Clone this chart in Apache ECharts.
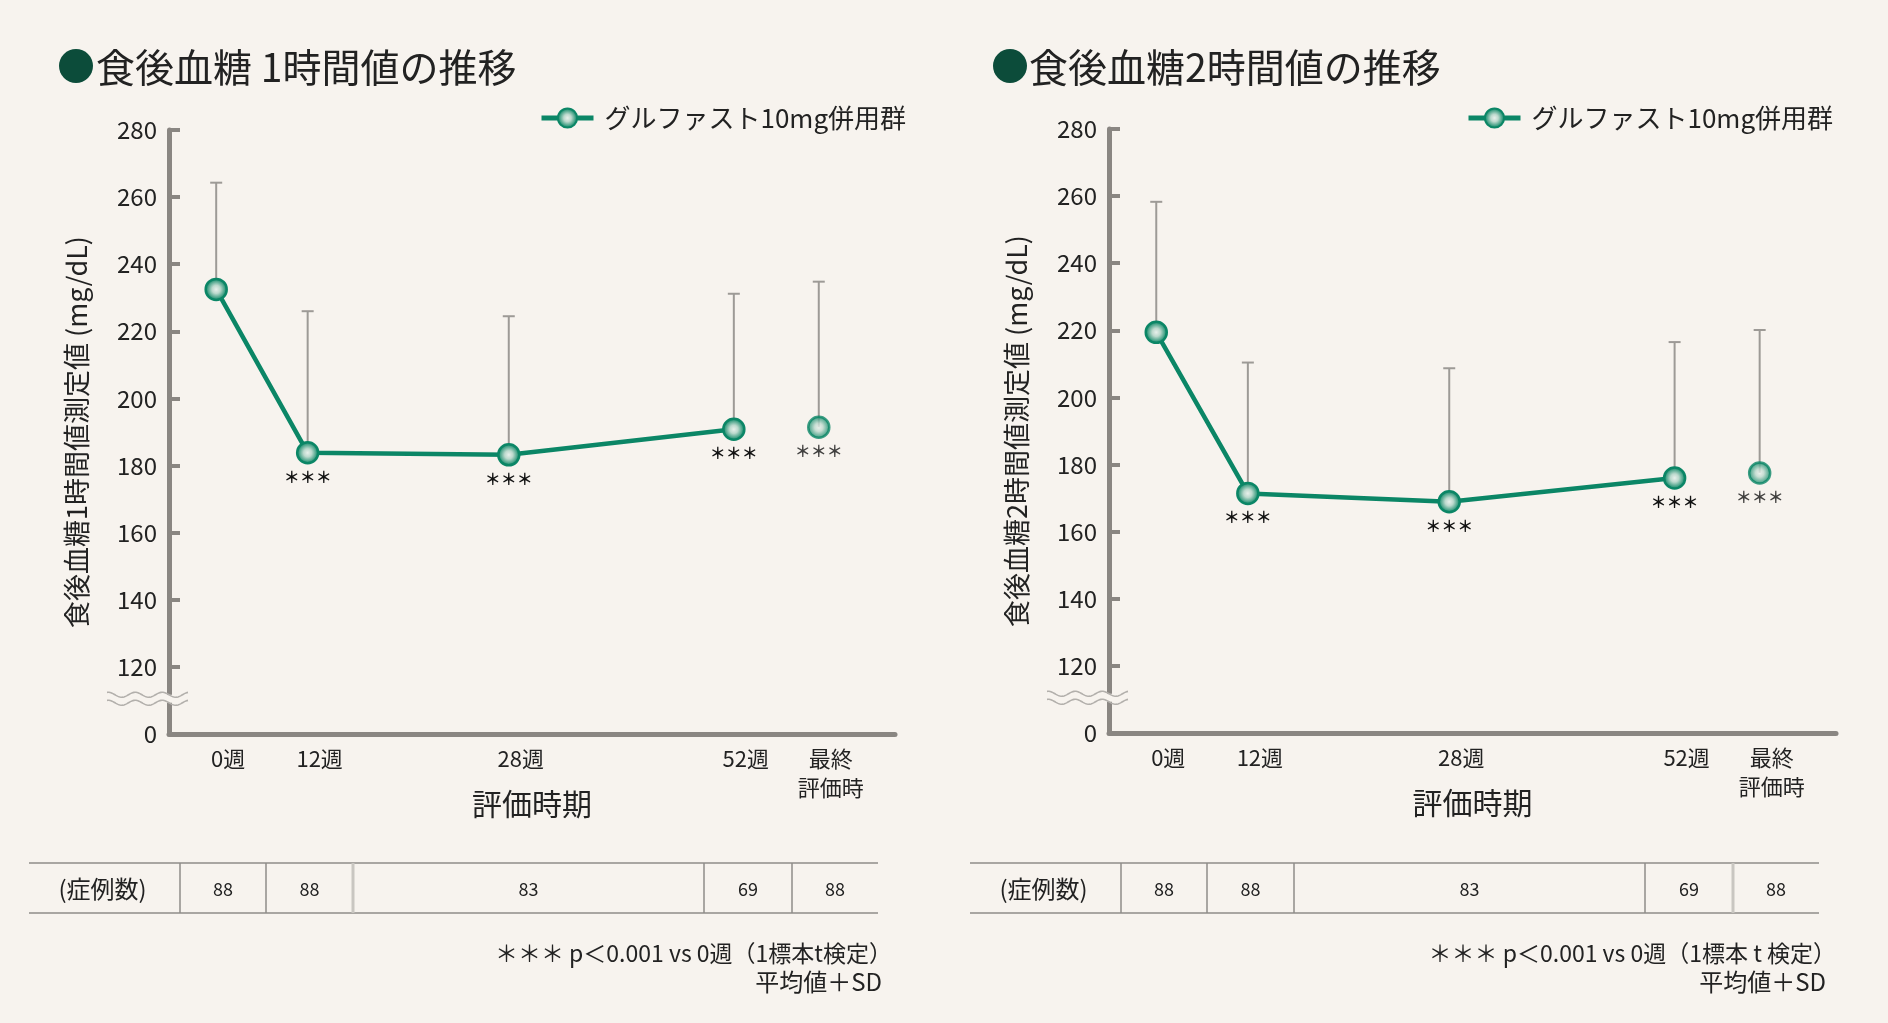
<!DOCTYPE html>
<html><head><meta charset="utf-8">
<script src="https://cdn.jsdelivr.net/npm/echarts@6/dist/echarts.min.js"></script>
<style>html,body{margin:0;padding:0;background:#f7f3ee;} #c{width:1888px;height:1023px;}</style>
</head><body><div id="c"></div>
<script>
// ---------------- data ----------------
const periods = ['0週', '12週', '28週', '52週', '最終\n評価時'];
const connected = [true, true, true, true, false];   // 最終評価時 is not joined by the line
const mean1h = [232.5, 183.8, 183.2, 190.8, 191.4];
const sd1h   = [31.8, 42.2, 41.3, 40.4, 43.4];
const mean2h = [219.4, 171.4, 168.9, 176.0, 177.5];
const sd2h   = [38.9, 39.0, 39.8, 40.5, 42.6];
const sigMarks = ['', '＊＊＊', '＊＊＊', '＊＊＊', '＊＊＊'];
const caseCounts = [88, 88, 83, 69, 88];
const yTickValues = [100, 120, 140, 160, 180, 200, 220, 240, 260, 280]; // 100 is shown as "0" (axis break)
const seriesName = 'グルファスト10mg併用群';
const titles = ['食後血糖 1時間値の推移', '食後血糖2時間値の推移'];
const yNames = ['食後血糖1時間値測定値 (mg/dL)', '食後血糖2時間値測定値 (mg/dL)'];
const xName = '評価時期';
const caseLabel = '(症例数)';
const footnotes = [
  ['＊＊＊ p＜0.001 vs 0週（1標本t検定）', '平均値＋SD'],
  ['＊＊＊ p＜0.001 vs 0週（1標本 t 検定）', '平均値＋SD']
];

// ---------------- layout ----------------
const slots = [6.5, 19.1, 46.8, 77.8, 89.5];   // horizontal slot of each evaluation period (axis 0..100)
const labelShift = 1.65;
const GREEN = '#0b8666';
const AXIS = '#8a8682';
const BG = '#f7f3ee';
const TXT = '#222';
const FONT = '"Noto Sans CJK JP", "Noto Sans", sans-serif';
const grids = [
  {left: 169, top: 130, width: 726, height: 604},
  {left: 1109, top: 129, width: 727, height: 604}
];

const chart = echarts.init(document.getElementById('c'));

function markerStyle() {
  return {
    color: {type: 'radial', x: 0.5, y: 0.5, r: 0.5, colorStops: [
      {offset: 0, color: '#e8f0eb'}, {offset: 0.35, color: '#bcd9cd'}, {offset: 0.75, color: '#3d9e82'}, {offset: 1, color: '#118a6a'}]},
    borderColor: GREEN, borderWidth: 2.5
  };
}

const xAxes = [], yAxes = [], series = [];
[[mean1h, sd1h], [mean2h, sd2h]].forEach(([mean, sd], idx) => {
  xAxes.push({
    type: 'value', gridIndex: idx, min: 0, max: 100,
    axisLine: {show: true, onZero: false, lineStyle: {color: AXIS, width: 5}},
    axisTick: {show: false}, splitLine: {show: false},
    axisLabel: {
      customValues: slots.map(s => s + labelShift),
      formatter: v => { const i = slots.findIndex(s => Math.abs(s + labelShift - v) < 0.01); return i >= 0 ? periods[i] : ''; },
      fontSize: 22, color: TXT, lineHeight: 29, margin: 10, fontFamily: FONT
    },
    name: xName, nameLocation: 'middle', nameGap: 55, nameMoveOverlap: false,
    nameTextStyle: {fontSize: 30, color: TXT, fontFamily: FONT}
  });
  yAxes.push({
    type: 'value', gridIndex: idx, min: yTickValues[0], max: yTickValues[yTickValues.length - 1], interval: 20,
    axisLine: {show: true, onZero: false, lineStyle: {color: AXIS, width: 5}},
    axisTick: {show: true, inside: true, length: 11, lineStyle: {color: AXIS, width: 4}},
    splitLine: {show: false},
    axisLabel: {formatter: v => v === yTickValues[0] ? '0' : String(v), fontSize: 24, color: TXT, margin: 12, fontFamily: FONT},
    name: yNames[idx], nameLocation: 'middle', nameGap: 79, nameRotate: 90, nameMoveOverlap: false,
    nameTextStyle: {fontSize: 27, color: TXT, fontFamily: FONT}
  });
  // SD bars (mean + SD)
  series.push({
    type: 'custom', xAxisIndex: idx, yAxisIndex: idx, z: 1, silent: true,
    data: mean.map((m, i) => [slots[i], m, m + sd[i]]),
    encode: {x: 0, y: [1, 2]},
    renderItem: (params, api) => {
      const x = api.value(0);
      const p1 = api.coord([x, api.value(1)]);
      const p2 = api.coord([x, api.value(2)]);
      const st = {stroke: '#9d9a96', lineWidth: 2};
      return {type: 'group', children: [
        {type: 'line', shape: {x1: p1[0], y1: p1[1], x2: p2[0], y2: p2[1]}, style: st},
        {type: 'line', shape: {x1: p2[0] - 6, y1: p2[1], x2: p2[0] + 6, y2: p2[1]}, style: st}
      ]};
    }
  });
  const labelCfg = (getIdx) => ({show: true, position: 'bottom', distance: 4,
    formatter: p => sigMarks[getIdx(p)], fontSize: 16, fontWeight: 'bold', color: '#111', fontFamily: FONT});
  const lineIdx = mean.map((m, i) => i).filter(i => connected[i]);
  const aloneIdx = mean.map((m, i) => i).filter(i => !connected[i]);
  series.push({
    type: 'line', name: seriesName, xAxisIndex: idx, yAxisIndex: idx, z: 3,
    data: lineIdx.map(i => [slots[i], mean[i]]),
    symbol: 'circle', symbolSize: 21,
    lineStyle: {color: GREEN, width: 4.5}, itemStyle: markerStyle(),
    label: labelCfg(p => lineIdx[p.dataIndex])
  });
  series.push({
    type: 'scatter', name: '最終評価時', xAxisIndex: idx, yAxisIndex: idx, z: 3,
    data: aloneIdx.map(i => [slots[i], mean[i]]),
    symbol: 'circle', symbolSize: 21, itemStyle: markerStyle(),
    label: labelCfg(p => aloneIdx[p.dataIndex])
  });
});

const legendCommon = {
  data: [seriesName], top: 100, itemWidth: 52, itemHeight: 24,
  lineStyle: {width: 5, color: GREEN},
  textStyle: {fontSize: 26, color: TXT, fontFamily: FONT, padding: [0, 0, 0, 6]}
};

chart.setOption({
  backgroundColor: BG,
  animation: false,
  textStyle: {fontFamily: FONT},
  title: [
    {text: titles[0], left: 96, top: 45, padding: 0, textStyle: {fontSize: 39, fontWeight: 'normal', color: TXT, fontFamily: FONT, lineHeight: 44}},
    {text: titles[1], left: 1029, top: 45, padding: 0, textStyle: {fontSize: 39, fontWeight: 'normal', color: TXT, fontFamily: FONT, lineHeight: 44}}
  ],
  legend: [
    Object.assign({left: 534}, legendCommon),
    Object.assign({left: 1461}, legendCommon)
  ],
  grid: grids,
  xAxis: xAxes,
  yAxis: yAxes,
  series: series
});

// ---------------- decorations: title dots, axis break, table, notes ----------------
const graphics = [];
const dotX = [76, 1010];
dotX.forEach(x => graphics.push({type: 'circle', shape: {cx: x, cy: 66, r: 17}, style: {fill: '#0c4c3a'}, silent: true}));

[0, 1].forEach(idx => {
  const p = chart.convertToPixel({xAxisIndex: idx, yAxisIndex: idx}, [0, 110.5]);
  const ax = p[0], yw = p[1];
  const waves = [yw - 4, yw + 4];
  graphics.push({type: 'rect', shape: {x: ax - 5, y: waves[0], width: 10, height: waves[1] - waves[0]}, style: {fill: BG}, z: 50, silent: true});
  waves.forEach(y0 => {
    const pts = [];
    for (let x = ax - 62; x <= ax + 19; x += 1) pts.push([x, y0 + 2.5 * Math.sin((x - ax) / 27 * 2 * Math.PI)]);
    graphics.push({type: 'polyline', shape: {points: pts}, style: {stroke: '#b3b0ac', lineWidth: 1.6, fill: null}, z: 51, silent: true});
  });
});

const tableLeft = [29, 970];
const colEdges = [0, 151, 237, 324, 675, 763, 849];
const lightSep = [3, 5];   // index of the lighter, thicker separator in each table
const tTop = 863, tBot = 913;
tableLeft.forEach((tl, t) => {
  [tTop, tBot].forEach(y => graphics.push({type: 'line', shape: {x1: tl, y1: y, x2: tl + colEdges[6], y2: y}, style: {stroke: '#8f8c88', lineWidth: 1.5}, silent: true}));
  for (let k = 1; k <= 5; k++) {
    const light = k === lightSep[t];
    graphics.push({type: 'line', shape: {x1: tl + colEdges[k], y1: tTop, x2: tl + colEdges[k], y2: tBot},
      style: {stroke: light ? '#c9c6c1' : '#8f8c88', lineWidth: light ? 3 : 1.5}, silent: true});
  }
  graphics.push({type: 'text', x: tl + (colEdges[0] + colEdges[1]) / 2 - 2, y: (tTop + tBot) / 2 + 1,
    style: {text: caseLabel, fill: TXT, font: '24px ' + FONT, align: 'center', verticalAlign: 'middle'}, silent: true});
  caseCounts.forEach((n, i) => {
    graphics.push({type: 'text', x: tl + (colEdges[i + 1] + colEdges[i + 2]) / 2, y: (tTop + tBot) / 2 + 1,
      style: {text: String(n), fill: TXT, font: '18px ' + FONT, align: 'center', verticalAlign: 'middle'}, silent: true});
  });
});

const noteRight = [882, 1826];
noteRight.forEach((xr, t) => {
  footnotes[t].forEach((line, j) => {
    graphics.push({type: 'text', x: xr + (j === 0 ? 10 : 0), y: 953 + j * 29,
      style: {text: line, fill: TXT, font: (j === 0 ? '23px ' : '24px ') + FONT, align: 'right', verticalAlign: 'middle'}, silent: true});
  });
});

chart.setOption({graphic: graphics});
</script>
</body></html>
